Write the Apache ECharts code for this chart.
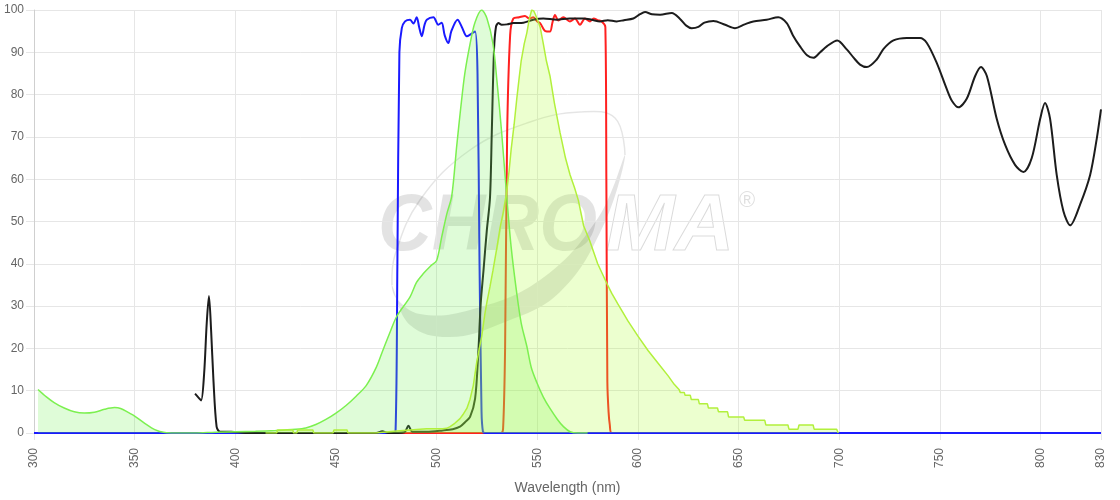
<!DOCTYPE html>
<html>
<head>
<meta charset="utf-8">
<script src="https://cdn.jsdelivr.net/npm/echarts@6/dist/echarts.min.js"></script>
<style>
  html, body { margin: 0; padding: 0; background: #fff; }
  #chart { width: 1120px; height: 500px; }
</style>
</head>
<body>
<div id="chart"></div>
<script>
'use strict'

// x axis ticks (nm)
const xMin = 300
const xMax = 830
const xStep = 50

// excitation spectrum [nm, %]
const excitation = [
  [302, 10.3], [306, 8.6], [310, 7.2], [315, 5.9], [320, 5.0], [325, 4.7], [330, 4.9], [335, 5.6],
  [340, 6.0], [343, 5.8], [347, 4.8], [350, 4.0], [355, 2.3], [360, 0.8], [365, 0.1], [370, 0],
  [380, 0], [390, 0.2], [400, 0.3], [410, 0.4], [420, 0.6], [430, 0.9], [435, 1.2], [440, 2.0],
  [445, 3.2], [450, 4.7], [455, 6.5], [460, 8.7], [465, 11.2], [470, 15.5], [473.5, 19.8], [477, 24],
  [480.2, 27.6], [486.8, 32.2], [490, 35.6], [493.4, 37.7], [497, 39.5], [500, 40.8], [502.5, 46.3],
  [505, 51.7], [507.5, 56], [510, 68], [512, 77], [514, 85], [516.6, 92], [519, 97], [522.4, 100],
  [525, 98], [528, 92], [530, 83], [532.3, 71], [534.8, 56], [537, 44], [539.8, 33], [542, 26],
  [544.8, 20.5], [547, 15.5], [549.7, 12], [553, 8.5], [556.3, 5.8], [560, 3.2], [563, 1.5],
  [566.3, 0.3], [570, 0], [575, 0]
]

// emission spectrum [nm, %] (raw data, drawn without smoothing)
const emission = [
  [415, 0], [420.5, 0], [421, 0.7], [428.5, 0.7], [429, 0], [430.5, 0], [431, 0.7], [438.5, 0.7],
  [439, 0], [448.5, 0], [449, 0.7], [455.5, 0.7], [456, 0], [470, 0], [480, 0.5], [495, 1],
  [503, 1], [505, 1.1], [506.7, 1.5], [509, 2.3], [511.6, 3.4], [513, 4.3], [515, 5.8],
  [516.6, 8], [518.2, 11.2], [519.9, 16.7], [521, 19.5], [522.4, 22.9], [524, 28.3], [525, 31],
  [526.5, 34.6], [528, 38.5], [530, 44], [531.5, 48.5], [533, 52], [534.8, 57], [536, 62],
  [537, 67], [538.5, 73], [539.8, 79], [541, 84], [542, 88], [543.5, 92], [544.8, 94.6],
  [546, 97.8], [547.2, 100], [548.2, 99.8], [549, 99], [550, 97.8], [551.4, 96], [553, 92],
  [554.5, 88], [556.3, 84.4], [558.5, 78], [561.3, 71], [564, 65], [566.3, 61], [568.5, 58],
  [570.4, 55], [573, 49], [576, 45.5], [580, 40], [584.5, 35.4], [587, 33], [590, 30.5],
  [595, 26.5], [600, 22.9], [605, 19.5], [610, 16.5], [615, 13.5], [618, 11.5], [620.5, 10.2],
  [621, 9.6], [623, 9.6], [623.4, 8.9], [626, 8.9], [626.5, 7.9], [630, 7.9], [630.5, 6.9],
  [634.5, 6.9], [635, 5.9], [639.5, 5.9], [640, 5.0], [644.5, 5.0], [645, 3.8], [652.5, 3.8],
  [653, 3.0], [663, 3.0], [663.5, 1.9], [674.5, 1.9], [675, 0.9], [679.5, 0.9], [680, 1.9],
  [687, 1.9], [687.5, 0.9], [698.7, 0.9], [699.5, 0]
]

// excitation filter (blue)
const exFilter = [
  [300, 0], [478, 0], [479.6, 0.5], [480.5, 40], [481.5, 90], [482.7, 95.7], [484.3, 97.3],
  [486.8, 97.7], [488.5, 96.8], [490.1, 98.3], [491.3, 96], [492.6, 93.8], [494, 96.5],
  [495.1, 97.7], [498.4, 98.3], [500.8, 96.5], [502.5, 97], [504, 94], [505.8, 92.2],
  [507.3, 95], [510.4, 97.7], [512.5, 96], [515, 93.8], [517, 94.3], [519.1, 94.9],
  [520.3, 85], [521.3, 40], [522.3, 5], [523, 0.3], [524, 0], [830, 0]
]

// emission filter (red)
const emFilter = [
  [300, 0], [532, 0], [533, 1], [534, 20], [535, 70], [536.5, 94], [538.1, 98], [541, 98.3],
  [543.9, 98.6], [546, 98], [548, 98.3], [550, 97.3], [551.4, 96.9], [554, 95], [556.3, 94.9],
  [557.5, 97], [558.8, 98.8], [560.5, 97.5], [562.9, 98.3], [566.2, 97.3], [568.7, 98],
  [571.2, 96.5], [573.7, 98], [576.2, 97.3], [578, 98], [580, 97.6], [582, 97.3], [583.8, 96],
  [584.3, 60], [584.8, 12], [585.4, 5], [586, 2], [587, 0], [830, 0]
]

// dichroic mirror (black)
const dichroic = [
  [380, 9.3], [381.5, 8.5], [383, 7.7], [384.5, 14], [385.8, 26], [386.9, 32.4], [388, 24],
  [389.1, 12.8], [390.7, 1.5], [392.4, 0.3], [398, 0.3], [405, 0], [470, 0], [473, 0.4],
  [476, 0], [484, 0.2], [486, 1.7], [488, 0.3], [495, 0.3], [503, 0.6], [508, 0.9],
  [511.6, 1.5], [514, 2.5], [516.6, 3.8], [519.1, 8.1], [520.7, 19], [521.9, 30.7],
  [523.2, 38], [524.9, 47.8], [526.5, 55.6], [527.4, 71.2], [528.5, 90.6], [529.5, 96.1],
  [530.7, 96.9], [532.3, 96.5], [535, 96.6], [538.1, 96.9], [543.1, 97], [548, 97.7], [553, 98],
  [559.6, 97.7], [566, 98], [572.9, 98], [577, 97.7], [581.2, 97.3], [585, 97.6], [589.4, 97.3],
  [593, 97.6], [597.7, 98], [601, 99], [603.5, 99.5], [607, 99], [611, 98.9], [616.8, 99.3],
  [620.9, 97.9], [624, 96.3], [626.7, 95.7], [630, 96], [633, 97], [637.5, 97.4], [643.3, 96.5],
  [648.2, 95.7], [653, 96.6], [657.3, 97.3], [663.9, 97.7], [669.7, 98.3], [673.9, 96.9],
  [677, 94], [680.5, 91.4], [684, 89.3], [687.1, 88.7], [690.5, 90], [693.8, 91.4], [699, 92.8],
  [703.7, 90.7], [707, 88.8], [710.3, 87.1], [713.7, 86.5], [718.6, 88.3], [722, 90.8],
  [726.9, 92.8], [733.5, 93.4], [740.1, 93.4], [743.5, 92.2], [748.4, 87.5], [753.4, 81.3],
  [756, 78.5], [759.2, 77], [763.3, 79], [767.5, 84.4], [770.4, 86.5], [773.3, 84.4],
  [778.2, 74.3], [782.4, 68.1], [787.3, 63.4], [791.5, 61.7], [795.6, 65], [799.8, 74.3],
  [802.2, 78], [804.7, 74.3], [808, 61], [811.3, 52.5], [814.7, 49.1], [819.6, 54],
  [824.6, 61], [827.9, 69.6], [830, 76.5]
]

const FONT = 'Liberation Sans, Arial, Helvetica, sans-serif'
const GRID_COLOR = '#e6e6e6'

const chart = echarts.init(document.getElementById('chart'), null, { renderer: 'canvas' })

// the spectra fills sit on top of the filter curves, as in the original
function lineSeries(data, color, width, fill, smooth) {
  const s = {
    type: 'line',
    data: data,
    showSymbol: false,
    smooth: smooth === undefined ? 0.3 : smooth,
    lineStyle: { color: color, width: width },
    itemStyle: { color: color },
    z: fill ? 3 : 2
  }
  if (fill) s.areaStyle = { color: fill, origin: 'start' }
  return s
}

// watermark (logo drawn behind the series)
const watermark = {
  type: 'group',
  z: -10,
  silent: true,
  children: [
    {
      type: 'polygon',
      shape: {
        smooth: 0.4,
        points: [[392, 285], [410, 325], [450, 337], [500, 324], [560, 292], [605, 222], [625, 155],
          [598, 218], [540, 280], [470, 310], [420, 314], [396, 298]]
      },
      style: { fill: 'rgba(0,0,0,0.11)' }
    },
    {
      type: 'polyline',
      shape: {
        smooth: 0.4,
        points: [[625, 155], [615, 118], [580, 112], [530, 122], [470, 150], [420, 200], [395, 255], [392, 285]]
      },
      style: { fill: null, stroke: 'rgba(0,0,0,0.1)', lineWidth: 1.5 }
    },
    {
      type: 'text',
      x: 378, y: 188, scaleX: 0.93,
      style: {
        text: 'CHRO', font: 'italic bold 80px ' + FONT,
        fill: 'rgba(0,0,0,0.11)', textVerticalAlign: 'top'
      }
    },
    {
      type: 'text',
      x: 606, y: 188, scaleX: 1.03,
      style: {
        text: 'MA', font: 'italic bold 80px ' + FONT,
        fill: 'rgba(255,255,255,0)', stroke: 'rgba(0,0,0,0.15)', lineWidth: 1,
        textVerticalAlign: 'top'
      }
    },
    {
      type: 'text',
      x: 747, y: 201,
      style: {
        text: '®', font: '22px ' + FONT, fill: 'rgba(0,0,0,0.13)',
        textAlign: 'center', textVerticalAlign: 'middle'
      }
    }
  ]
}

const option = {
  animation: false,
  backgroundColor: '#fff',
  textStyle: { fontFamily: FONT },
  graphic: [watermark],
  grid: { left: 34, right: 19, top: 10, bottom: 62, containLabel: false },
  xAxis: {
    type: 'value',
    min: xMin,
    max: xMax,
    interval: xStep,
    name: 'Wavelength (nm)',
    nameLocation: 'middle',
    nameGap: 48,
    nameTextStyle: { color: '#666', fontSize: 14, fontFamily: FONT },
    axisLine: { show: true, lineStyle: { color: '#cfcfcf', width: 1 } },
    axisTick: { show: true, length: 7, lineStyle: { color: GRID_COLOR } },
    axisLabel: { rotate: 90, margin: 15, color: '#666', fontSize: 12, fontFamily: FONT },
    splitLine: { show: true, lineStyle: { color: GRID_COLOR, width: 1 } }
  },
  yAxis: {
    type: 'value',
    min: 0,
    max: 100,
    interval: 10,
    axisLine: { show: true, lineStyle: { color: '#cfcfcf', width: 1 } },
    axisTick: { show: true, length: 8, lineStyle: { color: GRID_COLOR } },
    axisLabel: { margin: 10, color: '#666', fontSize: 12, fontFamily: FONT },
    splitLine: { show: true, lineStyle: { color: GRID_COLOR, width: 1 } }
  },
  series: [
    lineSeries(emFilter, '#ff2020', 2),
    lineSeries(exFilter, '#1a1aff', 2),
    lineSeries(dichroic, '#1c1c1c', 2),
    lineSeries(excitation, '#7cf050', 1.5, 'rgba(110,240,80,0.32)'),
    lineSeries(emission, '#b2f03c', 1.5, 'rgba(173,255,47,0.33)', false)
  ]
}

chart.setOption(option)
</script>
</body>
</html>
